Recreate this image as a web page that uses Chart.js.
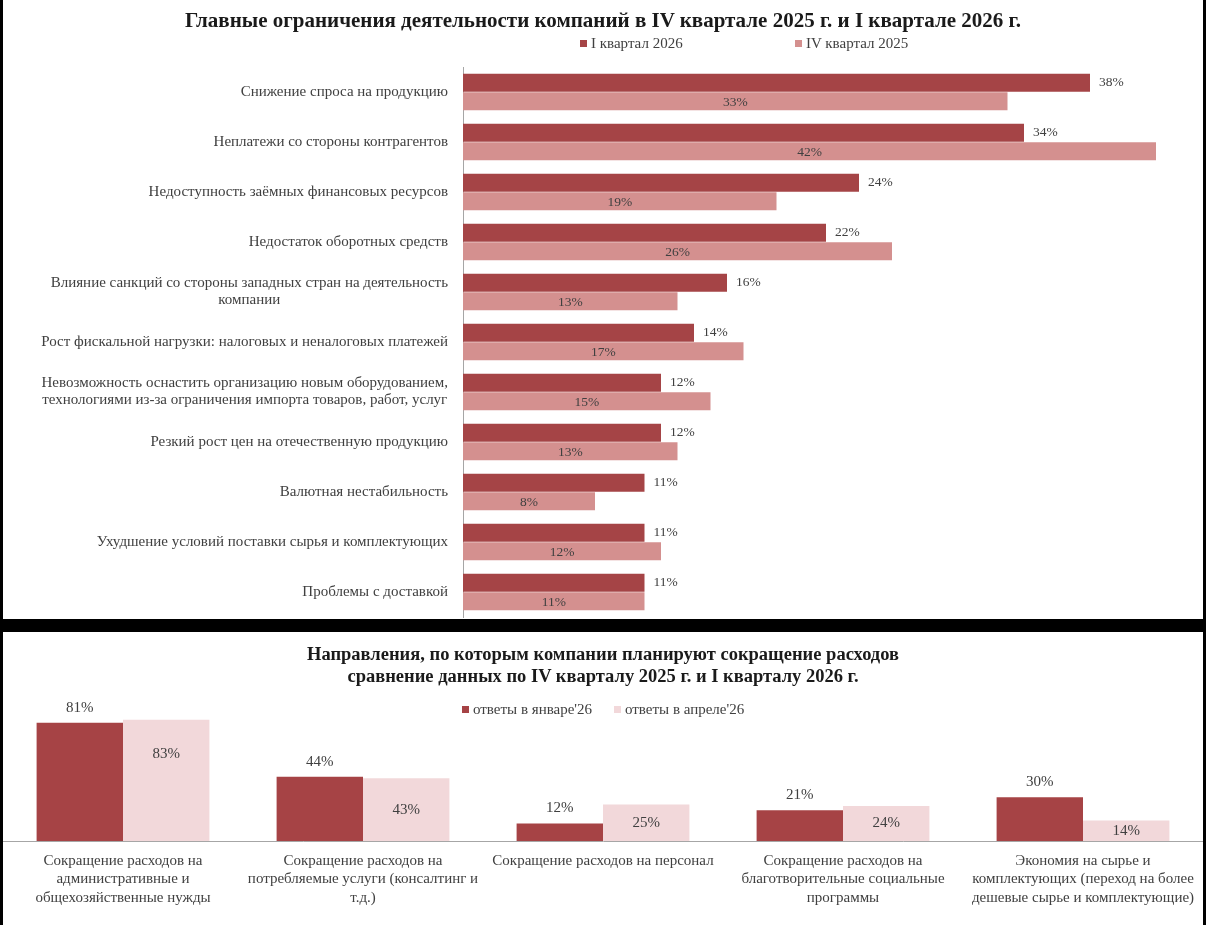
<!DOCTYPE html>
<html lang="ru">
<head>
<meta charset="utf-8">
<script src="https://cdn.jsdelivr.net/npm/chart.js@4.4.1/dist/chart.umd.min.js"></script>
<style>
  html, body { margin: 0; padding: 0; background: #000; }
  body { width: 1206px; height: 925px; position: relative; overflow: hidden; font-family: "Liberation Serif", "DejaVu Serif", serif; color: #404040; }
  .panel { position: absolute; left: 3px; width: 1200px; background: #fff; }
  #panelTop { top: 0; height: 619px; }
  #panelBottom { top: 632px; height: 293px; }
  .panel canvas { position: absolute; left: 0; top: 0; }
  .title { position: absolute; left: 0; width: 1200px; text-align: center; font-weight: bold; color: #1a1a1a; }
  .legend { position: absolute; font-size: 15px; color: #404040; white-space: nowrap; }
  .legend span.sw { display: inline-block; width: 7px; height: 7px; margin-right: 4px; vertical-align: 1px; }
</style>
</head>
<body>
<div class="panel" id="panelTop">
  <canvas id="chartTop" width="1200" height="619"></canvas>
  <div class="title" style="top:8px; font-size:21px;">Главные ограничения деятельности компаний в IV квартале 2025 г. и I квартале 2026 г.</div>
  <div class="legend" style="left:577px; top:35px;"><span class="sw" style="background:#a54446"></span>I квартал 2026</div>
  <div class="legend" style="left:792px; top:35px;"><span class="sw" style="background:#d4908f"></span>IV квартал 2025</div>
</div>
<div class="panel" id="panelBottom">
  <canvas id="chartBottom" width="1200" height="293"></canvas>
  <div class="title" style="top:11px; font-size:18.5px; line-height:22px;">Направления, по которым компании планируют сокращение расходов<br>сравнение данных по IV кварталу 2025 г. и I кварталу 2026 г.</div>
  <div class="legend" style="left:459px; top:69px;"><span class="sw" style="background:#a64345"></span>ответы в январе'26</div>
  <div class="legend" style="left:611px; top:69px;"><span class="sw" style="background:#f2d8da"></span>ответы в апреле'26</div>
</div>
<script>
// --- ДАННЫЕ: верхний график (ограничения) ---
const ogranicheniya = [
  ['Снижение спроса на продукцию'],
  ['Неплатежи со стороны контрагентов'],
  ['Недоступность заёмных финансовых ресурсов'],
  ['Недостаток оборотных средств'],
  ['Влияние санкций со стороны западных стран на деятельность', 'компании'],
  ['Рост фискальной нагрузки: налоговых и неналоговых платежей'],
  ['Невозможность оснастить организацию новым оборудованием,', 'технологиями из-за ограничения импорта товаров, работ, услуг'],
  ['Резкий рост цен на отечественную продукцию'],
  ['Валютная нестабильность'],
  ['Ухудшение условий поставки сырья и комплектующих'],
  ['Проблемы с доставкой']
];
const kvartal1_2026 = [38, 34, 24, 22, 16, 14, 12, 12, 11, 11, 11];
const kvartal4_2025 = [33, 42, 19, 26, 13, 17, 15, 13, 8, 12, 11];

// --- ДАННЫЕ: нижний график (сокращение расходов) ---
const napravleniya = [
  ['Сокращение расходов на', 'административные и', 'общехозяйственные нужды'],
  ['Сокращение расходов на', 'потребляемые услуги (консалтинг и', 'т.д.)'],
  ['Сокращение расходов на персонал'],
  ['Сокращение расходов на', 'благотворительные социальные', 'программы'],
  ['Экономия на сырье и', 'комплектующих (переход на более', 'дешевые сырье и комплектующие)']
];
const otvetyYanvar = [81, 44, 12, 21, 30];
const otvetyAprel = [83, 43, 25, 24, 14];

const SHRIFT = '"Liberation Serif", "DejaVu Serif", serif';
const TEKST = '#404040';

// подписи категорий слева + подписи значений (верхний график)
const podpisiVerh = {
  id: 'podpisiVerh',
  afterDatasetsDraw(chart) {
    const ctx = chart.ctx;
    const yScale = chart.scales.y;
    const left = chart.chartArea.left;
    ctx.save();
    ctx.fillStyle = TEKST;
    ctx.font = '15px ' + SHRIFT;
    ctx.textBaseline = 'middle';
    // категории: блок выровнен вправо, строки внутри блока по центру
    ogranicheniya.forEach((stroki, i) => {
      const yc = yScale.getPixelForTick(i);
      const shirina = Math.max(...stroki.map(s => ctx.measureText(s).width));
      const xc = left - 15 - shirina / 2;
      const lh = 17;
      ctx.textAlign = 'center';
      stroki.forEach((s, k) => {
        ctx.fillText(s, xc, yc + (k - (stroki.length - 1) / 2) * lh);
      });
    });
    // значения
    ctx.font = '13.5px ' + SHRIFT;
    chart.getDatasetMeta(0).data.forEach((bar, i) => {
      ctx.textAlign = 'left';
      ctx.fillText(kvartal1_2026[i] + '%', bar.x + 9, bar.y);
    });
    chart.getDatasetMeta(1).data.forEach((bar, i) => {
      ctx.textAlign = 'center';
      ctx.fillText(kvartal4_2025[i] + '%', (bar.x + bar.base) / 2, bar.y + 1);
    });
    ctx.restore();
  }
};

// подписи категорий снизу + подписи значений (нижний график)
const podpisiNiz = {
  id: 'podpisiNiz',
  afterDatasetsDraw(chart) {
    const ctx = chart.ctx;
    const xScale = chart.scales.x;
    const bottom = chart.chartArea.bottom;
    ctx.save();
    ctx.fillStyle = TEKST;
    ctx.font = '15px ' + SHRIFT;
    ctx.textAlign = 'center';
    ctx.textBaseline = 'middle';
    napravleniya.forEach((stroki, i) => {
      const xc = xScale.getPixelForTick(i);
      stroki.forEach((s, k) => {
        ctx.fillText(s, xc, bottom + 20 + k * 18.5);
      });
    });
    chart.getDatasetMeta(0).data.forEach((bar, i) => {
      ctx.fillText(otvetyYanvar[i] + '%', bar.x, bar.y - 15);
    });
    chart.getDatasetMeta(1).data.forEach((bar, i) => {
      const centr = (bar.y + bar.base) / 2;
      ctx.fillText(otvetyAprel[i] + '%', bar.x, Math.min(centr, bar.y + 34));
    });
    ctx.restore();
  }
};

new Chart(document.getElementById('chartTop'), {
  type: 'bar',
  data: {
    labels: ogranicheniya.map(s => s.join(' ')),
    datasets: [
      { label: 'I квартал 2026', data: kvartal1_2026, backgroundColor: '#a54446' },
      { label: 'IV квартал 2025', data: kvartal4_2025, backgroundColor: '#d4908f' }
    ]
  },
  options: {
    indexAxis: 'y',
    responsive: false,
    animation: false,
    layout: { padding: { left: 460, right: 14, top: 67, bottom: 2 } },
    categoryPercentage: 0.74,
    barPercentage: 0.96,
    plugins: { legend: { display: false }, tooltip: { enabled: false } },
    scales: {
      x: { min: 0, max: 44, display: false },
      y: {
        grid: { display: false, drawTicks: false },
        border: { display: true, color: '#a6a6a6', width: 1 },
        ticks: { display: false }
      }
    }
  },
  plugins: [podpisiVerh]
});

new Chart(document.getElementById('chartBottom'), {
  type: 'bar',
  data: {
    labels: napravleniya.map(s => s.join(' ')),
    datasets: [
      { label: "ответы в январе'26", data: otvetyYanvar, backgroundColor: '#a64345' },
      { label: "ответы в апреле'26", data: otvetyAprel, backgroundColor: '#f2d8da' }
    ]
  },
  options: {
    responsive: false,
    animation: false,
    layout: { padding: { left: 0, right: 0, top: 63, bottom: 84 } },
    categoryPercentage: 0.72,
    barPercentage: 1.0,
    plugins: { legend: { display: false }, tooltip: { enabled: false } },
    scales: {
      x: {
        grid: { display: false, drawTicks: false },
        border: { display: true, color: '#a6a6a6', width: 1 },
        ticks: { display: false }
      },
      y: { min: 0, max: 100, display: false }
    }
  },
  plugins: [podpisiNiz]
});
</script>
</body>
</html>
